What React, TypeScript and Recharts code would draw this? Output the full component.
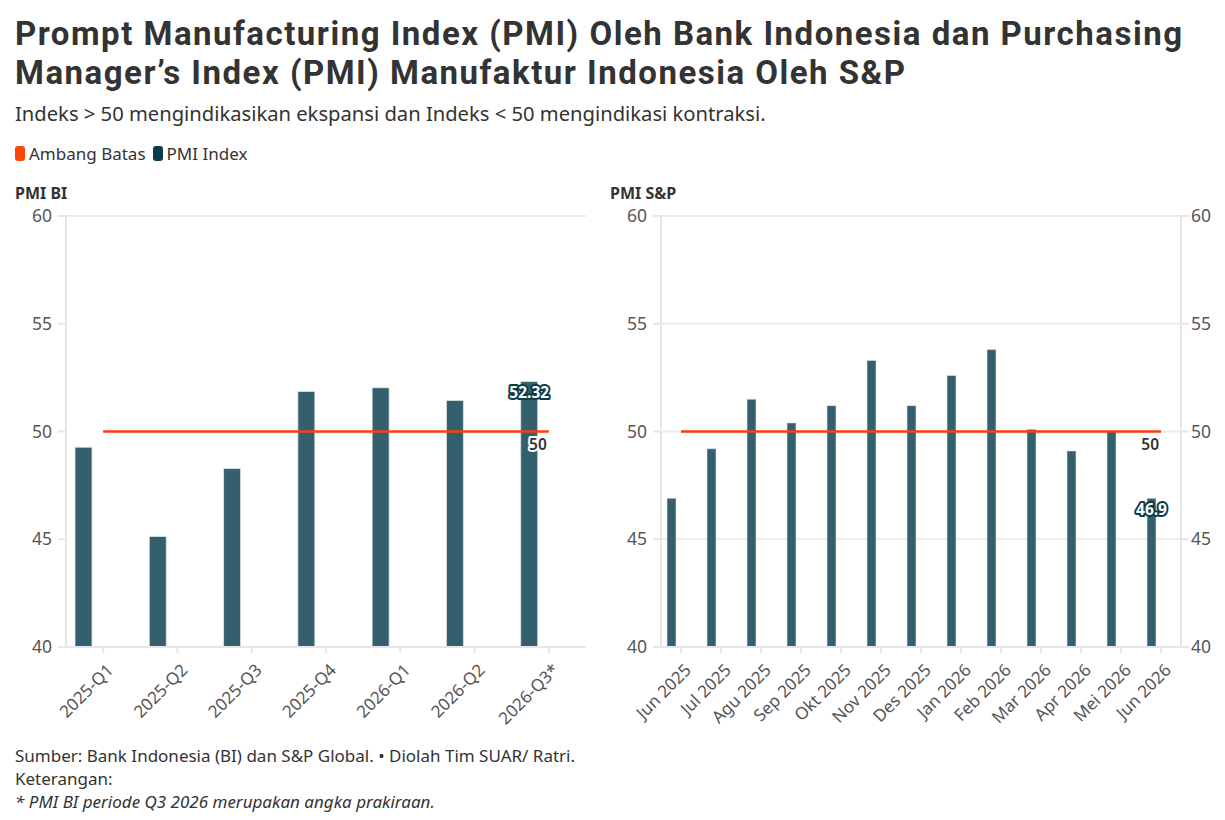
import React from 'react';
import {
  ComposedChart,
  Bar,
  Line,
  XAxis,
  YAxis,
  CartesianGrid,
  LabelList,
} from 'recharts';

// categories
const quarters = ['2025-Q1', '2025-Q2', '2025-Q3', '2025-Q4', '2026-Q1', '2026-Q2', '2026-Q3*'];
const months = [
  'Jun 2025', 'Jul 2025', 'Agu 2025', 'Sep 2025', 'Okt 2025', 'Nov 2025', 'Des 2025',
  'Jan 2026', 'Feb 2026', 'Mar 2026', 'Apr 2026', 'Mei 2026', 'Jun 2026',
];

// series values
const pmiBi = [49.27, 45.13, 48.28, 51.86, 52.03, 51.44, 52.32];
const pmiSp = [46.9, 49.2, 51.5, 50.4, 51.2, 53.3, 51.2, 52.6, 53.8, 50.1, 49.1, 50.0, 46.9];
const ambangBatas = 50;

// axis ticks
const yTicks = [40, 45, 50, 55, 60];
const yDomain: [number, number] = [40, 60];

const FONT = '"Noto Sans", sans-serif';
const RED = '#ff3d0a';
const TEAL = '#0b3c49';
const BAR = '#33606c';
const GRID = '#ececec';
const AXIS_TXT = '#555';

const biData = quarters.map((q, i) => ({ cat: q, pmi: pmiBi[i], ambang: ambangBatas }));
const spData = months.map((m, i) => ({ cat: m, pmi: pmiSp[i], ambang: ambangBatas }));

function RotTick(props: any) {
  const { x, y, payload } = props;
  return (
    <g transform={`translate(${x + 7},${y + 12})`}>
      <text
        transform="rotate(-45)"
        textAnchor="end"
        dy="0.35em"
        fill={AXIS_TXT}
        fontSize={17}
        fontFamily={FONT}
      >
        {payload.value}
      </text>
    </g>
  );
}

// value label shown only on the last bar
function makeLastBarLabel(lastIndex: number) {
  return function LastBarLabel(props: any) {
    const { x, y, width, value, index } = props;
    if (index !== lastIndex) return null;
    return (
      <text
        x={x + width / 2}
        y={y + 12}
        textAnchor="middle"
        dominantBaseline="middle"
        fontSize={15.5}
        fontWeight={700}
        fontFamily={FONT}
        fill="#fff"
        stroke={TEAL}
        strokeWidth={4}
        strokeLinejoin="round"
        style={{ paintOrder: 'stroke' }}
      >
        {value}
      </text>
    );
  };
}

function makeLastLineLabel(lastIndex: number) {
  return function LastLineLabel(props: any) {
    const { x, y, value, index } = props;
    if (index !== lastIndex) return null;
    return (
      <text
        x={x - 2}
        y={y + 14}
        textAnchor="end"
        dominantBaseline="middle"
        fontSize={15.5}
        fontWeight={600}
        fontFamily={FONT}
        fill="#333"
        stroke="#fff"
        strokeWidth={4}
        strokeLinejoin="round"
        style={{ paintOrder: 'stroke' }}
      >
        {value}
      </text>
    );
  };
}

const axisLine = { stroke: '#e6e6e6', strokeWidth: 2 };
const tickLine = { stroke: '#e6e6e6', strokeWidth: 2 };
const yTickStyle = { fill: AXIS_TXT, fontSize: 17.5, fontFamily: FONT };

function PmiBiChart() {
  return (
    <ComposedChart
      width={600}
      height={530}
      data={biData}
      margin={{ top: 16, right: 14, bottom: 0, left: 0 }}
      barGap={23}
    >
      <CartesianGrid vertical={false} stroke={GRID} strokeWidth={2} />
      <XAxis
        dataKey="cat"
        height={83}
        interval={0}
        axisLine={axisLine}
        tickLine={tickLine}
        tickSize={6}
        tick={<RotTick />}
      />
      <YAxis
        yAxisId="left"
        width={66}
        domain={yDomain}
        ticks={yTicks}
        axisLine={axisLine}
        tickLine={tickLine}
        tickSize={8}
        tickMargin={6}
        tick={yTickStyle}
      />
      <Bar yAxisId="left" dataKey="pmi" name="PMI Index" fill={BAR} stroke="#dfe8ea" strokeWidth={0.8} barSize={17} isAnimationActive={false}>
        <LabelList dataKey="pmi" content={makeLastBarLabel(biData.length - 1)} />
      </Bar>
      <Bar yAxisId="left" dataKey="spacer" barSize={17} isAnimationActive={false} />
      <Line
        yAxisId="left"
        dataKey="ambang"
        name="Ambang Batas"
        stroke={RED}
        strokeWidth={2.5}
        dot={false}
        activeDot={false}
        isAnimationActive={false}
      >
        <LabelList dataKey="ambang" content={makeLastLineLabel(biData.length - 1)} />
      </Line>
    </ComposedChart>
  );
}

function PmiSpChart() {
  return (
    <ComposedChart
      width={620}
      height={530}
      data={spData}
      margin={{ top: 16, right: 0, bottom: 0, left: 0 }}
      barGap={11}
    >
      <CartesianGrid vertical={false} stroke={GRID} strokeWidth={2} yAxisId="left" />
      <XAxis
        dataKey="cat"
        height={83}
        interval={0}
        axisLine={axisLine}
        tickLine={tickLine}
        tickSize={6}
        tick={<RotTick />}
      />
      <YAxis
        yAxisId="left"
        width={61}
        domain={yDomain}
        ticks={yTicks}
        axisLine={axisLine}
        tickLine={tickLine}
        tickSize={8}
        tickMargin={6}
        tick={yTickStyle}
      />
      <YAxis
        yAxisId="right"
        orientation="right"
        width={39}
        domain={yDomain}
        ticks={yTicks}
        axisLine={axisLine}
        tickLine={tickLine}
        tickSize={8}
        tickMargin={2}
        tick={yTickStyle}
      />
      <Bar yAxisId="left" dataKey="pmi" name="PMI Index" fill={BAR} stroke="#dfe8ea" strokeWidth={0.6} barSize={9} isAnimationActive={false}>
        <LabelList dataKey="pmi" content={makeLastBarLabel(spData.length - 1)} />
      </Bar>
      <Bar yAxisId="left" dataKey="spacer" barSize={9} isAnimationActive={false} />
      <Line
        yAxisId="right"
        dataKey="ambang"
        name="Ambang Batas"
        stroke={RED}
        strokeWidth={2.5}
        dot={false}
        activeDot={false}
        isAnimationActive={false}
      >
        <LabelList dataKey="ambang" content={makeLastLineLabel(spData.length - 1)} />
      </Line>
    </ComposedChart>
  );
}

function LegendItem({ color, label }: { color: string; label: string }) {
  return (
    <span style={{ display: 'inline-flex', alignItems: 'center', marginRight: 7 }}>
      <span
        style={{
          display: 'inline-block',
          width: 10,
          height: 15,
          borderRadius: 3,
          background: color,
          marginRight: 4,
        }}
      />
      {label}
    </span>
  );
}

const titleLine = {
  position: 'absolute' as const,
  left: 15,
  fontFamily: 'Roboto, sans-serif',
  fontSize: 33,
  fontWeight: 700,
  lineHeight: '38px',
  letterSpacing: 1.5,
  color: '#333',
  whiteSpace: 'nowrap' as const,
};

export default function App() {
  return (
    <div
      style={{
        position: 'absolute',
        left: 0,
        top: 0,
        width: 1225,
        height: 820,
        background: '#fff',
        fontFamily: FONT,
        color: '#333',
        overflow: 'hidden',
      }}
    >
      <div style={{ ...titleLine, top: 15 }}>
        Prompt Manufacturing Index (PMI) Oleh Bank Indonesia dan Purchasing
      </div>
      <div style={{ ...titleLine, top: 54 }}>
        Manager’s Index (PMI) Manufaktur Indonesia Oleh S&amp;P
      </div>
      <div style={{ position: 'absolute', left: 15, top: 99, fontSize: 20.2, color: '#333', whiteSpace: 'nowrap' }}>
        Indeks &gt; 50 mengindikasikan ekspansi dan Indeks &lt; 50 mengindikasi kontraksi.
      </div>
      <div style={{ position: 'absolute', left: 15, top: 142, fontSize: 17, color: '#333', display: 'flex' }}>
        <LegendItem color="#ff4500" label="Ambang Batas" />
        <LegendItem color={TEAL} label="PMI Index" />
      </div>

      <div style={{ position: 'absolute', left: 15, top: 182, fontSize: 16, fontWeight: 700, color: '#333' }}>PMI BI</div>
      <div style={{ position: 'absolute', left: 610, top: 182, fontSize: 16, fontWeight: 700, color: '#333' }}>PMI S&amp;P</div>

      <div style={{ position: 'absolute', left: 0, top: 200 }}>
        <PmiBiChart />
      </div>
      <div style={{ position: 'absolute', left: 600, top: 200 }}>
        <PmiSpChart />
      </div>

      <div style={{ position: 'absolute', left: 15, top: 744, fontSize: 17, lineHeight: '23px', color: '#333', whiteSpace: 'nowrap' }}>
        <div>Sumber: Bank Indonesia (BI) dan S&amp;P Global. • Diolah Tim SUAR/ Ratri.</div>
        <div>Keterangan:</div>
        <div style={{ fontStyle: 'italic' }}>* PMI BI periode Q3 2026 merupakan angka prakiraan.</div>
      </div>
    </div>
  );
}
